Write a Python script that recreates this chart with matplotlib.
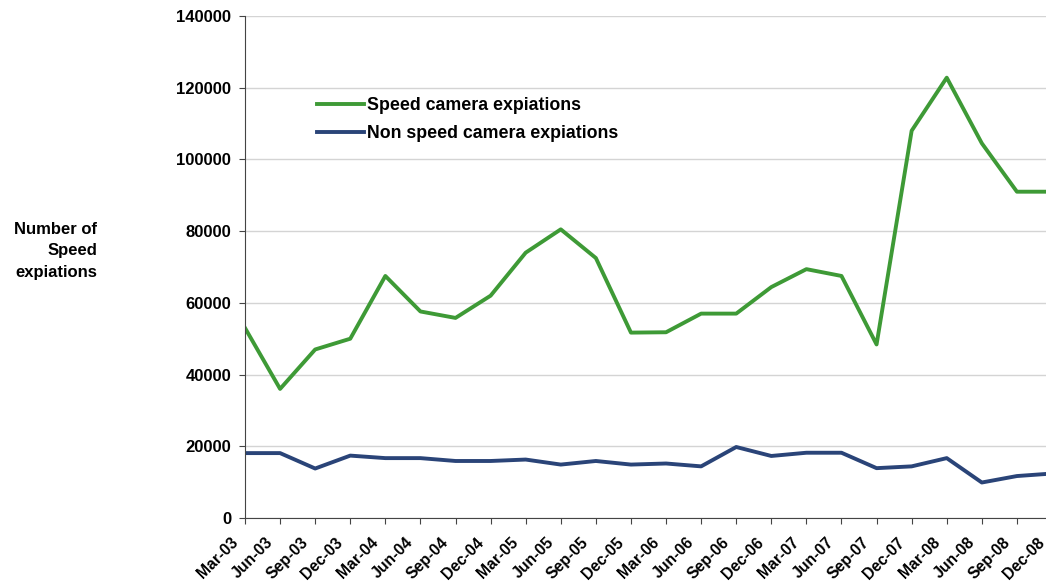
import numpy as np
import matplotlib.pyplot as plt
from matplotlib.transforms import ScaledTranslation

plt.rcParams['font.family'] = ['Liberation Sans', 'DejaVu Sans']

# quarterly labels
quarters = ['Mar-03', 'Jun-03', 'Sep-03', 'Dec-03', 'Mar-04', 'Jun-04', 'Sep-04', 'Dec-04',
            'Mar-05', 'Jun-05', 'Sep-05', 'Dec-05', 'Mar-06', 'Jun-06', 'Sep-06', 'Dec-06',
            'Mar-07', 'Jun-07', 'Sep-07', 'Dec-07', 'Mar-08', 'Jun-08', 'Sep-08', 'Dec-08']

# speed camera expiations
speed_camera = [53000, 36000, 47000, 50000, 67500, 57600, 55800, 62000,
                74000, 80500, 72500, 51700, 51800, 57000, 57000, 64400,
                69400, 67500, 48400, 108000, 122800, 104500, 91000, 91000]

# non speed camera expiations
non_speed_camera = [18100, 18100, 13800, 17400, 16700, 16700, 15900, 15900,
                    16300, 14900, 15900, 14900, 15200, 14400, 19800, 17300,
                    18200, 18200, 13900, 14400, 16700, 9900, 11700, 12400]

green = '#3E9A36'
navy = '#2A4478'

fig = plt.figure(figsize=(10.46, 5.87), dpi=100)
# the plot area runs a little past the right edge (last quarter is cut off)
ax = fig.add_axes([245 / 1046, (587 - 518) / 587, (1052 - 245) / 1046, (518 - 16) / 587])

x = np.arange(len(quarters))
ax.plot(x, speed_camera, color=green, lw=2.8, label='Speed camera expiations')
ax.plot(x, non_speed_camera, color=navy, lw=2.8, label='Non speed camera expiations')

ax.set_xticks(x)
ax.set_xlim(0, len(quarters) - 1)
ax.set_ylim(0, 140000)
ax.set_yticks(np.arange(0, 140001, 20000))

ax.grid(axis='y', color='#D4D4D4', lw=1.0)
ax.set_axisbelow(True)
ax.spines['top'].set_visible(False)
ax.spines['right'].set_visible(False)
ax.spines['left'].set_color('#444444')
ax.spines['bottom'].set_color('#444444')
ax.tick_params(axis='both', length=4, color='#444444')
ax.tick_params(axis='y', pad=6)
ax.tick_params(axis='x', pad=12)

ax.set_xticklabels(quarters, rotation=45, ha='right', va='center', rotation_mode='anchor',
                   fontsize=11.3, fontweight='bold')
shift = ScaledTranslation(-0.095, 0, fig.dpi_scale_trans)
for lab in ax.get_xticklabels():
    lab.set_transform(lab.get_transform() + shift)
for lab in ax.get_yticklabels():
    lab.set_fontsize(12)
    lab.set_fontweight('bold')

fig.text(97 / 1046, 1 - 251 / 587, 'Number of\nSpeed\nexpiations', ha='right', va='center',
         fontsize=12, fontweight='bold', linespacing=1.55)

leg = ax.legend(loc='upper left', bbox_to_anchor=(0.089, 0.838), frameon=False,
                borderpad=0, borderaxespad=0, handlelength=2.65, handletextpad=0.2,
                labelspacing=0.6, prop={'size': 12.8, 'weight': 'bold'})

fig.savefig('out.png', dpi=100)
